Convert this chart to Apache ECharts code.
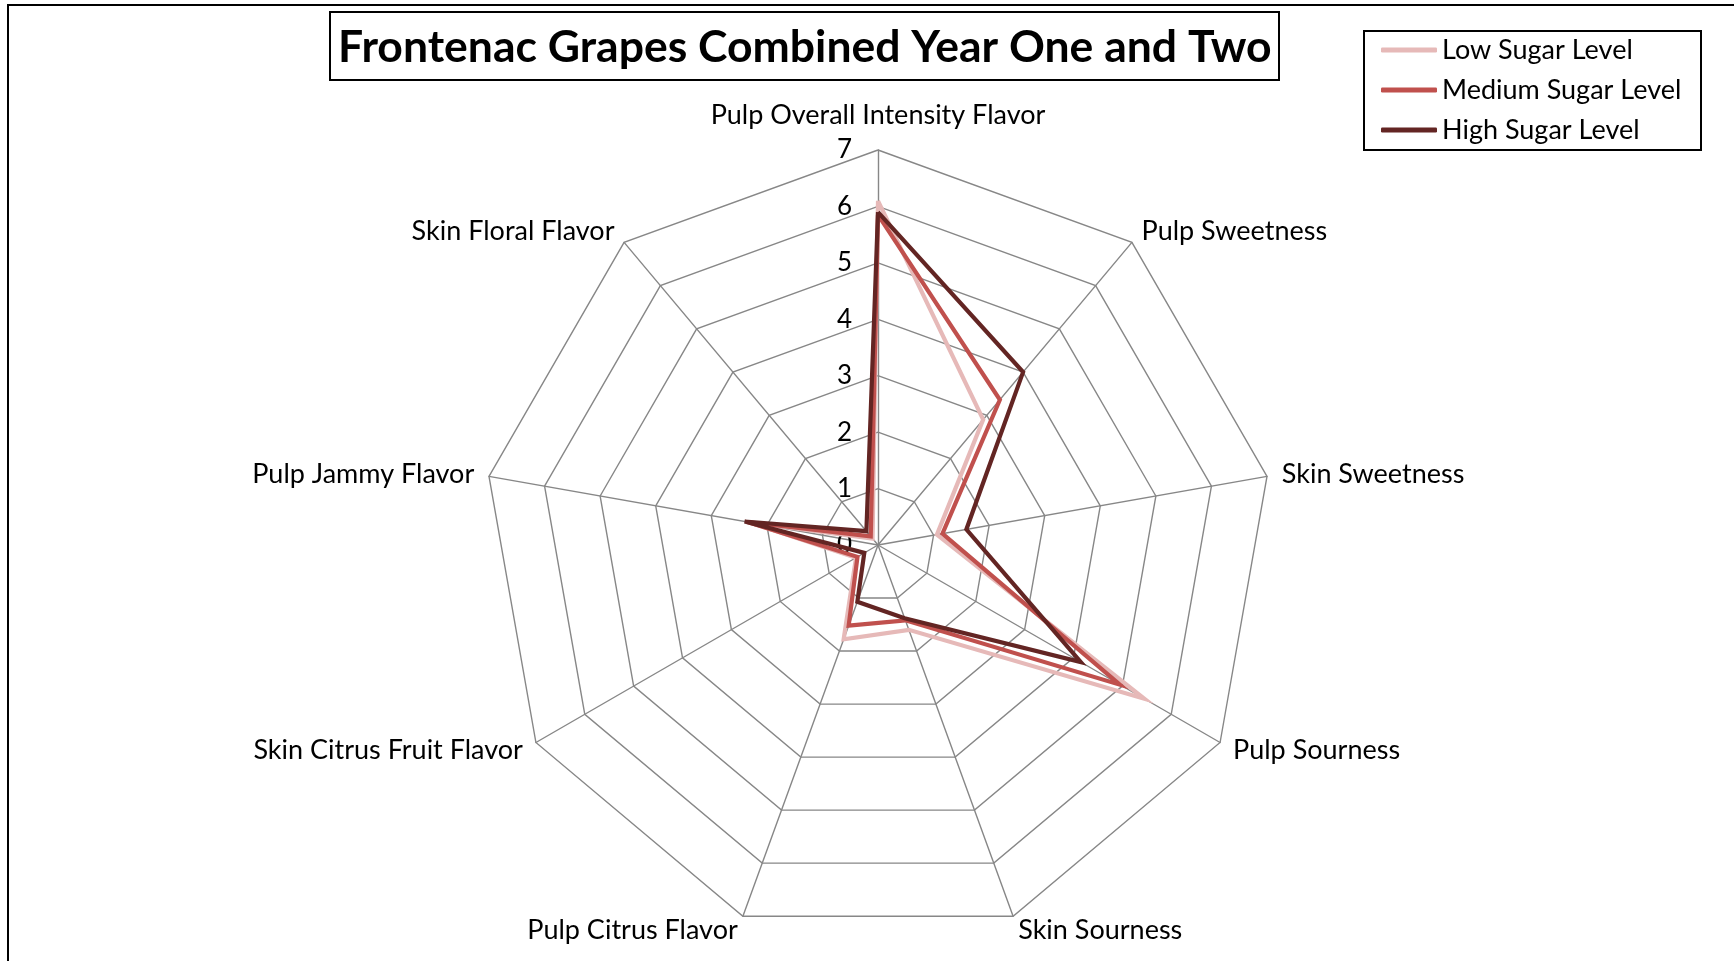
<!DOCTYPE html>
<html>
<head>
<meta charset="utf-8">
<title>Frontenac Grapes Combined Year One and Two</title>
<script src="https://cdn.jsdelivr.net/npm/echarts@6/dist/echarts.min.js"></script>
<style>
  html, body { margin: 0; padding: 0; background: #ffffff; }
  #chart { width: 1734px; height: 961px; }
</style>
</head>
<body>
<div id="chart"></div>
<script>
// Sensory attributes, listed clockwise starting from the top spoke
const attributes = [
  'Pulp Overall Intensity Flavor',
  'Pulp Sweetness',
  'Skin Sweetness',
  'Pulp Sourness',
  'Skin Sourness',
  'Pulp Citrus Flavor',
  'Skin Citrus Fruit Flavor',
  'Pulp Jammy Flavor',
  'Skin Floral Flavor'
];

// Mean panel scores per sugar level (same order as attributes)
const lowSugar    = [6.10, 2.90, 1.06, 5.45, 1.60, 1.78, 0.45, 2.30, 0.15];
const mediumSugar = [5.85, 3.36, 1.16, 4.95, 1.42, 1.52, 0.42, 2.35, 0.20];
const highSugar   = [5.90, 4.00, 1.59, 4.15, 1.38, 1.07, 0.28, 2.40, 0.32];

const seriesNames = ['Low Sugar Level', 'Medium Sugar Level', 'High Sugar Level'];
const seriesColors = ['#E6B9B8', '#C0504D', '#632523'];

const scaleMax = 7;
const FONT = 'Lato, "Open Sans", sans-serif';

// ECharts lays radar spokes counter-clockwise, so keep the first spoke
// on top and reverse the rest to read clockwise.
function clockwise(arr) {
  return [arr[0]].concat(arr.slice(1).reverse());
}

const indicators = clockwise(attributes).map(function (name, i) {
  const ind = { name: name, min: 0, max: scaleMax };
  if (i === 0) {
    // tick values 0..7 are printed along the top spoke only
    ind.axisLabel = { show: true };
    ind.nameGap = 21;
  }
  return ind;
});

const chart = echarts.init(document.getElementById('chart'), null, { renderer: 'canvas' });

chart.setOption({
  backgroundColor: '#ffffff',
  animation: false,
  textStyle: { fontFamily: FONT, color: '#000' },
  graphic: [{
    type: 'rect',
    silent: true,
    shape: { x: 8, y: 5, width: 1760, height: 1000 },
    style: { fill: 'none', stroke: '#000', lineWidth: 2 }
  }],
  title: {
    text: 'Frontenac Grapes Combined Year One and Two',
    left: 330,
    top: 12,
    padding: [11, 8, 7, 8],
    borderColor: '#000',
    borderWidth: 2,
    textStyle: {
      fontFamily: FONT,
      fontWeight: 'bold',
      fontSize: 44.5,
      lineHeight: 50,
      color: '#000'
    }
  },
  legend: {
    orient: 'vertical',
    left: 1364,
    top: 31,
    padding: [4, 16, 5, 17],
    borderColor: '#000',
    borderWidth: 2,
    itemGap: 10,
    itemWidth: 56,
    itemHeight: 5,
    icon: 'roundRect',
    data: seriesNames,
    textStyle: {
      fontFamily: FONT,
      fontSize: 27,
      lineHeight: 30,
      color: '#000',
      width: 243
    }
  },
  radar: {
    center: [878, 545],
    radius: 395,
    startAngle: 90,
    shape: 'polygon',
    splitNumber: 7,
    nameGap: 15,
    axisName: {
      color: '#000',
      fontFamily: FONT,
      fontSize: 27
    },
    axisLine: { lineStyle: { color: '#878787', width: 1.4 } },
    splitLine: { lineStyle: { color: '#878787', width: 1.4 } },
    splitArea: { show: false },
    axisTick: { show: false },
    axisLabel: {
      show: false,
      color: '#000',
      fontFamily: FONT,
      fontSize: 26,
      margin: 26
    },
    indicator: indicators
  },
  series: [{
    type: 'radar',
    symbol: 'none',
    data: [
      { name: seriesNames[0], value: clockwise(lowSugar) },
      { name: seriesNames[1], value: clockwise(mediumSugar) },
      { name: seriesNames[2], value: clockwise(highSugar) }
    ].map(function (d, i) {
      d.itemStyle = { color: seriesColors[i] };
      d.lineStyle = { color: seriesColors[i], width: 4.2, join: 'miter' };
      return d;
    })
  }]
});
</script>
</body>
</html>
